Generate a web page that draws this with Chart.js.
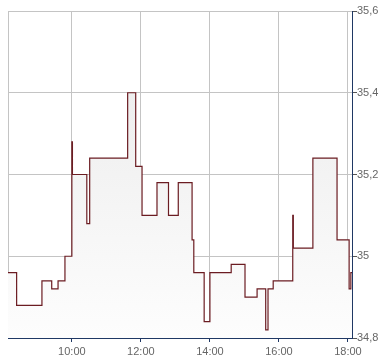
<!DOCTYPE html>
<html>
<head>
<meta charset="utf-8">
<script src="https://cdn.jsdelivr.net/npm/chart.js@4"></script>
<style>
  html, body { margin: 0; padding: 0; background: #fff; }
  canvas { display: block; }
</style>
</head>
<body>
<canvas id="priceChart" width="390" height="364"></canvas>
<script>
// time in minutes since midnight, value holds from that time on
const times = [489, 504, 548, 565, 576, 588, 600, 601, 626, 631, 697, 711, 722, 748, 768, 785,
               809, 812, 830, 840, 877, 901, 922, 937, 941, 950, 984, 985, 1019, 1061, 1082, 1085, 1087];
const prices = [34.96, 34.88, 34.94, 34.92, 34.94, 35.00, 35.28, 35.20, 35.08, 35.24, 35.40, 35.22, 35.10, 35.18, 35.10, 35.18,
                35.04, 34.96, 34.84, 34.96, 34.98, 34.90, 34.92, 34.82, 34.92, 34.94, 35.10, 35.02, 35.24, 35.04, 34.92, 34.96, 34.96];
const xTicks = [600, 720, 840, 960, 1080];
const yTicks = [34.8, 35.0, 35.2, 35.4, 35.6];
const xMin = 489, xMax = 1087;

document.addEventListener('DOMContentLoaded', function () {
    const points = times.map((t, i) => ({ x: t, y: prices[i] }));
    const ctx = document.getElementById('priceChart').getContext('2d');
    const font = { family: '"Liberation Sans", Arial, sans-serif', size: 11 };

    new Chart(ctx, {
        type: 'line',
        data: {
            datasets: [{
                data: points,
                stepped: true,
                borderColor: '#6b1c22',
                borderWidth: 1.2,
                pointRadius: 0,
                fill: 'start',
                backgroundColor: function (c) {
                    const area = c.chart.chartArea;
                    if (!area) return '#f0f0f0';
                    const g = c.chart.ctx.createLinearGradient(0, area.top, 0, area.bottom);
                    g.addColorStop(0, '#e9e9e9');
                    g.addColorStop(1, '#fdfdfd');
                    return g;
                }
            }]
        },
        options: {
            responsive: false,
            animation: false,
            layout: { padding: { left: 8, top: 11, right: 0, bottom: 0 } },
            plugins: { legend: { display: false }, tooltip: { enabled: false } },
            scales: {
                x: {
                    type: 'linear',
                    min: xMin,
                    max: xMax,
                    afterBuildTicks: s => { s.ticks = [xMin].concat(xTicks, [xMax]).map(v => ({ value: v })); },
                    afterFit: s => { s.height = 26; },
                    grid: {
                        color: '#c4c4c4',
                        tickLength: 4,
                        tickColor: c => xTicks.includes(c.tick && c.tick.value) ? '#1f3864' : 'rgba(0,0,0,0)'
                    },
                    border: { color: '#1f3864', width: 1 },
                    ticks: {
                        autoSkip: false,
                        maxRotation: 0,
                        padding: 3,
                        color: '#666',
                        font: font,
                        callback: v => xTicks.includes(v) ? String(v / 60).padStart(2, '0') + ':00' : ''
                    }
                },
                y: {
                    position: 'right',
                    min: 34.8,
                    max: 35.6,
                    afterBuildTicks: s => { s.ticks = yTicks.map(v => ({ value: v })); },
                    afterFit: s => { s.width = 38; },
                    grid: { color: '#c4c4c4', tickLength: 5, tickColor: '#555' },
                    border: { color: '#1f3864', width: 1 },
                    ticks: {
                        padding: 0,
                        color: '#666',
                        font: font,
                        callback: v => String(Number(v.toFixed(1))).replace('.', ',')
                    }
                }
            }
        }
    });
});
</script>
</body>
</html>
